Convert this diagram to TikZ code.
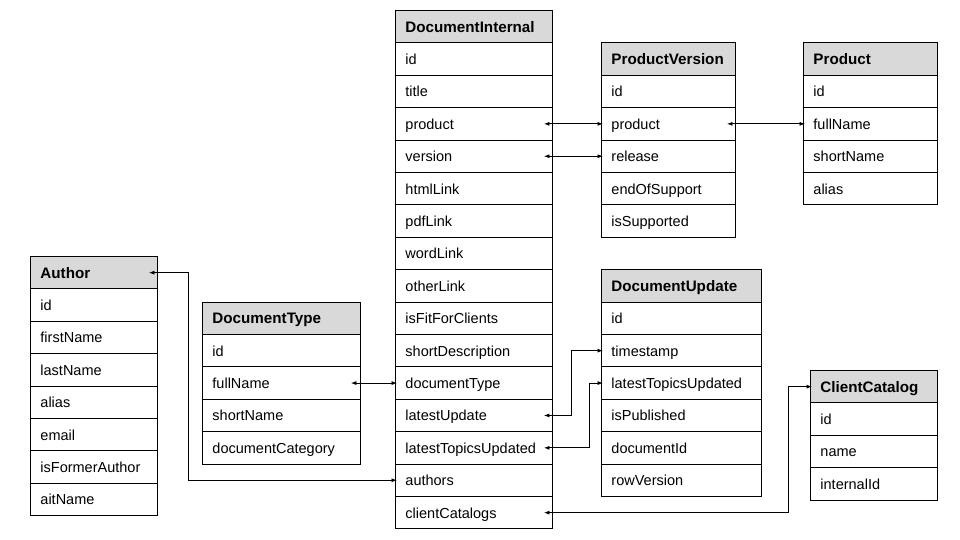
\documentclass[tikz,border=0pt]{standalone}
\usepackage{fontspec}
\setmainfont{Liberation Sans}
\usetikzlibrary{arrows.meta}
\definecolor{headgray}{RGB}{217,217,217}

\begin{document}
\begin{tikzpicture}[x=1pt,y=1pt,yscale=-1,xscale=1,
        cell/.style={draw, line width=0.9pt, rectangle, anchor=north west, inner xsep=10pt, inner ysep=0pt, minimum height=32.4pt, text height=12.5pt, text depth=1.5pt, align=left, font=\fontsize{14.5}{17}\selectfont},
        head/.style={cell, fill=headgray, font=\fontsize{15.2}{17}\selectfont\bfseries},
        di/.style={text width=137pt},
        pv/.style={text width=114pt},
        pr/.style={text width=114pt},
        au/.style={text width=107pt},
        dt/.style={text width=138pt},
        du/.style={text width=140pt},
        cc/.style={text width=107pt},
        link/.style={line width=0.8pt, {Latex[length=5.5pt,width=4pt]}-{Latex[length=5.5pt,width=4pt]}}]
        \useasboundingbox (0,0) rectangle (960,540);

        %Table: DocumentInternal
        \node [head, di] (di-head) at (395,10) {DocumentInternal};
        \node [cell, di] (di-id) at (395,42.4) {id};
        \node [cell, di] (di-title) at (395,74.8) {title};
        \node [cell, di] (di-product) at (395,107.2) {product};
        \node [cell, di] (di-version) at (395,139.6) {version};
        \node [cell, di] (di-html) at (395,172) {htmlLink};
        \node [cell, di] (di-pdf) at (395,204.4) {pdfLink};
        \node [cell, di] (di-word) at (395,236.8) {wordLink};
        \node [cell, di] (di-other) at (395,269.2) {otherLink};
        \node [cell, di] (di-fit) at (395,301.6) {isFitForClients};
        \node [cell, di] (di-short) at (395,334) {shortDescription};
        \node [cell, di] (di-doctype) at (395,366.4) {documentType};
        \node [cell, di] (di-update) at (395,398.8) {latestUpdate};
        \node [cell, di] (di-topics) at (395,431.2) {latestTopicsUpdated};
        \node [cell, di] (di-authors) at (395,463.6) {authors};
        \node [cell, di] (di-catalogs) at (395,496) {clientCatalogs};

        %Table: ProductVersion
        \node [head, pv] (pv-head) at (601,42.4) {ProductVersion};
        \node [cell, pv] (pv-id) at (601,74.8) {id};
        \node [cell, pv] (pv-product) at (601,107.2) {product};
        \node [cell, pv] (pv-release) at (601,139.6) {release};
        \node [cell, pv] (pv-end) at (601,172) {endOfSupport};
        \node [cell, pv] (pv-supported) at (601,204.4) {isSupported};

        %Table: Product
        \node [head, pr] (pr-head) at (803,42.4) {Product};
        \node [cell, pr] (pr-id) at (803,74.8) {id};
        \node [cell, pr] (pr-full) at (803,107.2) {fullName};
        \node [cell, pr] (pr-short) at (803,139.6) {shortName};
        \node [cell, pr] (pr-alias) at (803,172) {alias};

        %Table: Author
        \node [head, au] (au-head) at (30,256) {Author};
        \node [cell, au] (au-id) at (30,288.4) {id};
        \node [cell, au] (au-first) at (30,320.8) {firstName};
        \node [cell, au] (au-last) at (30,353.2) {lastName};
        \node [cell, au] (au-alias) at (30,385.6) {alias};
        \node [cell, au] (au-email) at (30,418) {email};
        \node [cell, au] (au-former) at (30,450.4) {isFormerAuthor};
        \node [cell, au] (au-ait) at (30,482.8) {aitName};

        %Table: DocumentType
        \node [head, dt] (dt-head) at (202,301.6) {DocumentType};
        \node [cell, dt] (dt-id) at (202,334) {id};
        \node [cell, dt] (dt-full) at (202,366.4) {fullName};
        \node [cell, dt] (dt-short) at (202,398.8) {shortName};
        \node [cell, dt] (dt-category) at (202,431.2) {documentCategory};

        %Table: DocumentUpdate
        \node [head, du] (du-head) at (601,269.2) {DocumentUpdate};
        \node [cell, du] (du-id) at (601,301.6) {id};
        \node [cell, du] (du-stamp) at (601,334) {timestamp};
        \node [cell, du] (du-topics) at (601,366.4) {latestTopicsUpdated};
        \node [cell, du] (du-published) at (601,398.8) {isPublished};
        \node [cell, du] (du-docid) at (601,431.2) {documentId};
        \node [cell, du] (du-rowver) at (601,463.6) {rowVersion};

        %Table: ClientCatalog
        \node [head, cc] (cc-head) at (810,370) {ClientCatalog};
        \node [cell, cc] (cc-id) at (810,402.4) {id};
        \node [cell, cc] (cc-name) at (810,434.8) {name};
        \node [cell, cc] (cc-internal) at (810,467.2) {internalId};

        %Connectors
        \draw [link] ([xshift=-9pt]di-product.east) -- ([xshift=2pt]pv-product.west);
        \draw [link] ([xshift=-9pt]di-version.east) -- ([xshift=2pt]pv-release.west);
        \draw [link] ([xshift=-9pt]pv-product.east) -- ([xshift=2pt]pr-full.west);
        \draw [link] ([xshift=-10pt]dt-full.east) -- ([xshift=2pt]di-doctype.west);
        \draw [link] ([xshift=-9pt]di-update.east) -- ++(27,0) |- ([xshift=2pt]du-stamp.west);
        \draw [link] ([xshift=-9pt]di-topics.east) -- ++(45,0) |- ([xshift=2pt]du-topics.west);
        \draw [link] ([xshift=-9pt]di-catalogs.east) -- ++(244,0) |- ([xshift=2pt]cc-head.west);
        \draw [link] ([xshift=-9pt]au-head.east) -- ++(39,0) |- ([xshift=2pt]di-authors.west);
\end{tikzpicture}
\end{document}
